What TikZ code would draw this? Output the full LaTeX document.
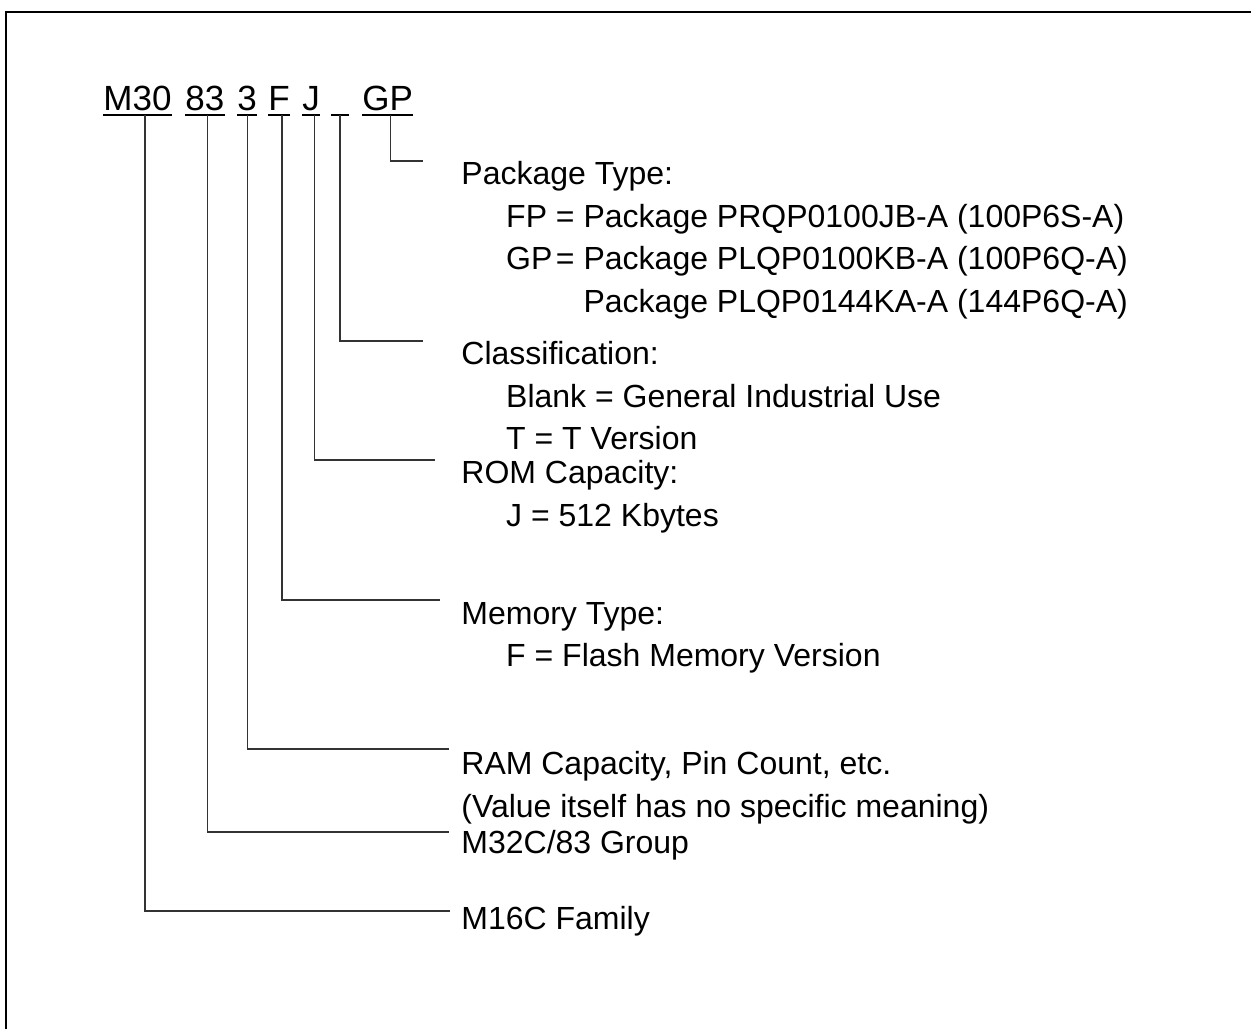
\documentclass[tikz,border=0pt]{standalone}
\usepackage{fontspec}
\setmainfont{Liberation Sans}
\usetikzlibrary{calc}

\newcommand{\eqpart}[1]{\makebox[1.556em][l]{#1}= }

\begin{document}
\begin{tikzpicture}[
    x=0.5pt, y=-0.5pt,
    seg/.style={inner sep=0pt, anchor=base west, font=\fontsize{17.5}{21}\selectfont},
    desc/.style={inner sep=0pt, anchor=north west, align=left, font=\fontsize{16}{21.25}\selectfont},
    uline/.style={line width=1pt},
    lead/.style={line width=0.6pt, draw=black!80},
    frame/.style={line width=1.2pt}
]
\useasboundingbox (0,0) rectangle (1251,1029);
\draw[frame] (6,1029) |- (1251,12);

% Part number
\node[seg] (m30) at (103,110) {M30};
\node[seg] (g83) at (185,110) {83};
\node[seg] (r3) at (237,110) {3};
\node[seg] (f) at (268,110) {F};
\node[seg] (j) at (302,110) {J};
\node[seg, minimum width=8.5pt] (blk) at (331,110) {};
\node[seg] (gp) at (362,110) {GP};

\foreach \n in {m30,g83,r3,f,j,blk,gp}
    \draw[uline] ($(\n.base west)+(0,5)$) -- ($(\n.base east)+(0,5)$);

% Field descriptions
\node[desc] (pkg) at (461,161) {Package Type:\\
    \hspace*{1.4em}\eqpart{FP}Package PRQP0100JB-A (100P6S-A)\\
    \hspace*{1.4em}\eqpart{GP}Package PLQP0100KB-A (100P6Q-A)\\
    \hspace*{1.4em}\phantom{\eqpart{GP}}Package PLQP0144KA-A (144P6Q-A)};
\node[desc] (cls) at (461,341) {Classification:\\
    \hspace*{1.4em}Blank = General Industrial Use\\
    \hspace*{1.4em}T = T Version};
\node[desc] (rom) at (461,460) {ROM Capacity:\\
    \hspace*{1.4em}J = 512 Kbytes};
\node[desc] (mem) at (461,602) {Memory Type:\\
    \hspace*{1.4em}F = Flash Memory Version};
\node[desc] (ram) at (461,751) {RAM Capacity, Pin Count, etc.\\
    (Value itself has no specific meaning)};
\node[desc] (grp) at (461,830) {M32C/83 Group};
\node[desc] (fam) at (461,906) {M16C Family};

% Leader lines
\foreach \n/\dx/\lab/\gap/\dy in {gp/2.7/pkg/38/0, blk/0/cls/38/0, j/3/rom/26/0,
    f/3/mem/21/-2, r3/0/ram/12/-2, g83/2.5/grp/12/2, m30/7.5/fam/11/5}
    \draw[lead] ($(\n.base)+(\dx,5)$) |- ($(\lab.north west)+(-\gap,\dy)$);

\end{tikzpicture}
\end{document}
